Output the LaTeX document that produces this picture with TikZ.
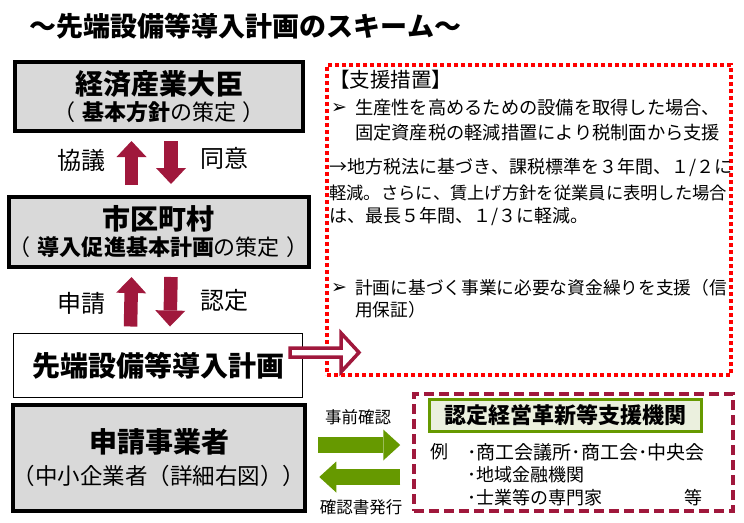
\documentclass[tikz,border=0pt]{standalone}
\usepackage{fontspec}
\setmainfont{Noto Sans CJK JP}[Kerning=Off]
\newfontfamily\symfont{DejaVu Sans}
\usepackage{xcolor}
\usetikzlibrary{
	arrows.meta,
	positioning
}
\definecolor{schemered}{RGB}{160,24,60}
\definecolor{alertred}{RGB}{255,0,0}
\definecolor{boxgray}{RGB}{217,217,217}
\definecolor{agencygreen}{RGB}{102,153,0}
\definecolor{agencyfill}{RGB}{235,240,222}

\begin{document}
\begin{tikzpicture}[x=1pt, y=-1pt,
		graybox/.style={draw=black, line width=4pt, fill=boxgray, minimum width=288pt, inner sep=0pt, align=center},
		whitebox/.style={draw=black, line width=1pt, fill=white, minimum width=289pt, inner sep=0pt, align=center},
		boxtitle/.style={font=\fontsize{28}{32}\selectfont\bfseries},
		redarrow/.style={schemered, line width=13.5pt, -{Triangle[width=30pt, length=16pt, line width=0pt]}},
		greenarrow/.style={agencygreen, line width=16pt, -{Triangle[width=31pt, length=17pt, line width=0pt]}},
		sidelabel/.style={font=\fontsize{24}{28}\selectfont},
		smalllabel/.style={font=\fontsize{16.5}{20}\selectfont},
		paneltext/.style={anchor=west, inner sep=0pt, font=\fontsize{18}{22}\selectfont},
		bulletmark/.style={anchor=west, inner sep=0pt, font=\symfont\fontsize{19}{22}\selectfont}
	]
		\useasboundingbox (0,0) rectangle (744,522);
		% title
		\node (title) at (245,26) {\fontsize{27}{32}\selectfont\bfseries ～先端設備等導入計画のスキーム～};
		% left column
		\node[graybox, minimum height=69pt, font=\fontsize{22}{26}\selectfont] (minister) at (159,96.5)
			{{\fontsize{28}{32}\selectfont\bfseries 経済産業大臣}\\（\hspace{7pt}\textbf{基本方針}の策定\hspace{7pt}）};
		\node[graybox, minimum height=70pt, font=\fontsize{22}{26}\selectfont] (city) at (159,232)
			{{\fontsize{28}{32}\selectfont\bfseries 市区町村}\\（\hspace{7pt}\textbf{導入促進基本計画}の策定\hspace{7pt}）};
		\node[whitebox, minimum height=64pt, boxtitle] (plan) at (158,365.5) {先端設備等導入計画};
		\node[graybox, minimum height=106pt, font=\fontsize{22.5}{32}\selectfont] (applicant) at (159,458)
			{{\fontsize{28}{32}\selectfont\bfseries 申請事業者}\\（中小企業者（詳細右図））};
		\draw[redarrow] ([xshift=-27.5pt, yshift=10pt]city.north) -- ([xshift=-27.5pt, yshift=-8pt]minister.south);
		\draw[redarrow] ([xshift=12pt, yshift=-8pt]minister.south) -- ([xshift=12pt, yshift=11pt]city.north);
		\draw[redarrow] ([xshift=-27.5pt, yshift=6.5pt]plan.north) -- ([xshift=-27.5pt, yshift=-8pt]city.south);
		\draw[redarrow] ([xshift=12pt, yshift=-8pt]city.south) -- ([xshift=12pt, yshift=6.5pt]plan.north);
		\node[sidelabel] (consult) at (81,160) {協議};
		\node[sidelabel] (agree) at (224,158) {同意};
		\node[sidelabel] (apply) at (81,303) {申請};
		\node[sidelabel] (approve) at (224,300) {認定};
		% support measures
		\node[draw=alertred, line width=4pt, dash pattern=on 4pt off 3pt, minimum width=404pt, minimum height=310pt] (support) at (529,220) {};
		\draw[schemered, line width=3.5pt, fill=white, line join=miter]
			(290,348) -- (341,348) -- (341,333) -- (359,352.5) -- (341,372) -- (341,357) -- (290,357) -- cycle;
		\node[paneltext, font=\fontsize{20.5}{24}\selectfont] (measures) at (329,80) {【支援措置】};
		\node[bulletmark] (bulletA) at (331,108) {➢};
		\node[paneltext, font=\fontsize{18.25}{22}\selectfont] (taxA) at (355,108) {生産性を高めるための設備を取得した場合、};
		\node[paneltext, font=\fontsize{18.25}{22}\selectfont] (taxB) at (355,133) {固定資産税の軽減措置により税制面から支援};
		\node[paneltext] (taxC) at (329,168) {→地方税法に基づき、課税標準を３年間、１/２に};
		\node[paneltext, font=\fontsize{17.3}{22}\selectfont] (taxD) at (329,193) {軽減。さらに、賃上げ方針を従業員に表明した場合};
		\node[paneltext] (taxE) at (329,217) {は、最長５年間、１/３に軽減。};
		\node[bulletmark] (bulletB) at (331,288) {➢};
		\node[paneltext, font=\fontsize{17.7}{22}\selectfont] (loanA) at (355,288) {計画に基づく事業に必要な資金繰りを支援（信};
		\node[paneltext, font=\fontsize{17.7}{22}\selectfont] (loanB) at (355,310) {用保証）};
		% support agency
		\node[draw=schemered, line width=3.5pt, dash pattern=on 10pt off 5pt, minimum width=319pt, minimum height=117pt] (agency) at (573.5,452.5) {};
		\node[draw=agencygreen, line width=3pt, fill=agencyfill, minimum width=272pt, minimum height=32pt,
			font=\fontsize{22}{26}\selectfont\bfseries] (agencyname) at (565.5,415.5) {認定経営革新等支援機関};
		\node[paneltext] (example) at (430,452) {例};
		\node[paneltext, font=\fontsize{19}{22}\selectfont] (chamber) at (467,452) {･商工会議所･商工会･中央会};
		\node[paneltext] (bank) at (467,475) {･地域金融機関};
		\node[paneltext] (expert) at (467,498) {･士業等の専門家};
		\node[paneltext] (etc) at (684,498) {等};
		\draw[greenarrow] ([xshift=11pt, yshift=13pt]applicant.east) -- ([xshift=-12pt, yshift=7.5pt]agency.west);
		\draw[greenarrow] ([xshift=-12pt, yshift=-24.5pt]agency.west) -- ([xshift=12pt, yshift=-19pt]applicant.east);
		\node[smalllabel] (precheck) at (358,417) {事前確認};
		\node[smalllabel] (certificate) at (361,507) {確認書発行};
	\end{tikzpicture}
\end{document}
